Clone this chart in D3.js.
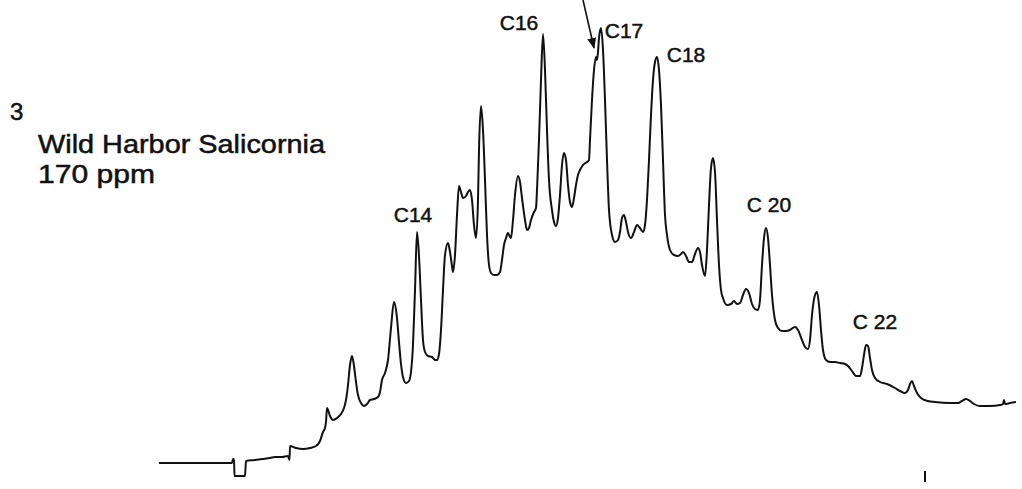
<!DOCTYPE html>
<html>
<head>
<meta charset="utf-8">
<script src="https://cdn.jsdelivr.net/npm/d3@7/dist/d3.min.js"></script>
<style>
  html, body { margin: 0; padding: 0; background: #fff; }
  svg { display: block; }
  text { font-family: "Liberation Sans", Arial, sans-serif; fill: #111; stroke: #111; stroke-width: 0.5; }
</style>
</head>
<body>
<svg id="chart" width="1022" height="489"></svg>
<script>
// Retention time (min, arbitrary origin) and detector response (arbitrary units)
const retention = [0.9,8.2,8.3,8.4,8.45,9.5,9.6,10.5,11.2,12.0,12.5,13.2,13.8,13.95,14.0,14.6,15.3,16.0,16.6,17.0,17.3,17.5,17.6,17.7,18.0,18.3,18.7,19.1,19.4,19.6,19.8,20.0,20.2,20.4,20.6,20.8,21.1,21.4,21.7,22.0,22.4,22.8,23.0,23.2,23.5,23.8,24.1,24.4,24.7,24.9,25.1,25.3,25.6,25.9,26.1,26.3,26.5,26.7,26.9,27.1,27.3,27.5,27.8,28.2,28.5,28.7,28.9,29.1,29.3,29.5,29.8,30.0,30.2,30.3,30.5,30.7,30.9,31.1,31.3,31.6,31.8,32.0,32.2,32.4,32.6,32.8,32.9,33.1,33.3,33.5,33.7,33.9,34.1,34.4,34.7,35.0,35.2,35.4,35.6,35.8,36.0,36.1,36.3,36.5,36.8,37.0,37.2,37.5,37.7,37.9,38.1,38.4,38.6,38.7,38.9,39.1,39.3,39.5,39.7,39.9,40.2,40.4,40.6,40.8,41.0,41.2,41.4,41.6,41.8,42.0,42.2,42.4,42.6,42.8,43.0,43.3,43.7,43.9,44.0,44.2,44.4,44.6,44.7,44.8,44.9,45.1,45.3,45.5,45.7,45.9,46.2,46.5,46.8,47.0,47.2,47.4,47.6,47.8,48.1,48.4,48.7,49.0,49.3,49.5,49.7,49.9,50.1,50.3,50.5,50.7,50.9,51.1,51.3,51.5,51.7,52.0,52.4,52.8,53.1,53.3,53.6,53.9,54.2,54.5,54.8,55.0,55.2,55.5,55.7,55.9,56.1,56.3,56.5,56.7,56.9,57.1,57.3,57.7,58.1,58.4,58.7,59.0,59.3,59.6,59.9,60.2,60.5,60.8,61.0,61.2,61.4,61.6,61.8,62.0,62.2,62.5,62.8,63.2,63.6,64.0,64.5,64.8,65.2,65.5,65.8,66.0,66.2,66.5,66.7,66.9,67.1,67.3,67.6,68.0,68.5,69.0,69.5,69.8,70.2,70.6,71.0,71.2,71.4,71.6,71.8,72.0,72.2,72.5,73.0,73.7,74.5,75.0,75.5,75.8,76.0,76.2,76.4,76.7,77.1,77.8,78.5,80.0,80.8,81.2,81.6,82.0,82.4,83.0,84.0,85.0,85.3,85.4,85.5,86.0,86.6];
const response = [17,17,21,21,4,4,19,20,21,22,23,23,24,20,34,32,31,32,34,39,48,52,58,72,64,60,62,66,72,80,95,115,124,114,98,85,77,74,76,80,81,83,88,100,107,120,152,178,162,138,116,103,97,99,108,135,190,248,224,180,140,128,124,123,120,120,126,150,190,225,237,228,214,208,225,265,294,288,282,284,288,290,280,255,242,280,330,374,350,300,245,215,207,205,205,208,220,235,242,247,243,242,260,285,304,298,282,260,250,252,260,268,272,290,340,400,446,410,350,300,270,258,254,262,285,315,327,320,295,278,273,282,295,305,310,315,318,320,340,380,410,423,420,428,442,452,430,380,320,270,245,238,240,248,262,265,258,248,242,248,255,252,248,255,280,320,365,400,418,423,410,375,320,265,245,230,225,224,226,228,224,218,218,226,232,228,215,204,230,275,312,322,308,260,215,190,182,175,176,179,176,177,185,191,187,176,171,170,180,215,242,252,242,215,185,160,152,149,149,150,153,150,140,133,131,140,165,185,188,175,150,130,120,118,118,117,116,114,109,104,104,112,125,135,134,122,110,102,98,96,92,89,87,90,96,99,94,87,82,79,78,77,77,79,81,79,76,74,74,75,76,80,76,77,78];

// Peak labels: text and anchor point (retention, response) of the label
const peakLabels = ["C14", "C16", "C17", "C18", "C 20", "C 22"];
const labelRetention = [26.3, 36.9, 47.4, 53.6, 61.9, 72.5];
const labelResponse = [258, 450, 442, 418, 268, 151];

// Title lines
const titleLines = ["3", "Wild Harbor Salicornia", "170 ppm"];

// Arrow pointing to the shoulder before C17 (retention, response)
const arrowFrom = [43.3, 480];
const arrowTo = [44.4, 432];
// End marker on the time axis
const markerRetention = 77.5;
const markerResponse = [9, -2];

const svg = d3.select("#chart");
const x = d3.scaleLinear().domain([0, 87.2]).range([150, 1022]);
const y = d3.scaleLinear().domain([0, 480]).range([480, 0]);

const data = retention.map((t, i) => ({ t, r: response[i] }));

const line = d3.line()
  .x(d => x(d.t))
  .y(d => y(d.r))
  .curve(d3.curveMonotoneX);

svg.append("path")
  .datum(data)
  .attr("d", line)
  .attr("fill", "none")
  .attr("stroke", "#111")
  .attr("stroke-width", 2)
  .attr("stroke-linejoin", "round");

// Peak labels
svg.selectAll("text.peak")
  .data(peakLabels)
  .join("text")
  .attr("class", "peak")
  .attr("x", (d, i) => x(labelRetention[i]))
  .attr("y", (d, i) => y(labelResponse[i]))
  .attr("text-anchor", "middle")
  .attr("font-size", 21)
  .text(d => d);

// Arrow
svg.append("defs").append("marker")
  .attr("id", "ah")
  .attr("viewBox", "0 0 10 10")
  .attr("refX", 9).attr("refY", 5)
  .attr("markerWidth", 7).attr("markerHeight", 7)
  .attr("orient", "auto")
  .append("path")
  .attr("d", "M0,1 L10,5 L0,9 Z")
  .attr("fill", "#111");

svg.append("line")
  .attr("x1", x(arrowFrom[0])).attr("y1", y(arrowFrom[1]))
  .attr("x2", x(arrowTo[0])).attr("y2", y(arrowTo[1]))
  .attr("stroke", "#111").attr("stroke-width", 1.6)
  .attr("marker-end", "url(#ah)");

// End marker
svg.append("line")
  .attr("x1", x(markerRetention)).attr("x2", x(markerRetention))
  .attr("y1", y(markerResponse[0])).attr("y2", y(markerResponse[1]))
  .attr("stroke", "#111").attr("stroke-width", 2);

// Title block
const title = svg.append("g");
title.append("text").attr("x", 10).attr("y", 120).attr("font-size", 24).text(titleLines[0]);
title.append("text").attr("x", 38).attr("y", 153).attr("font-size", 25)
  .attr("textLength", 287).attr("lengthAdjust", "spacingAndGlyphs").text(titleLines[1]);
title.append("text").attr("x", 38).attr("y", 183).attr("font-size", 25)
  .attr("textLength", 117).attr("lengthAdjust", "spacingAndGlyphs").text(titleLines[2]);
</script>
</body>
</html>
